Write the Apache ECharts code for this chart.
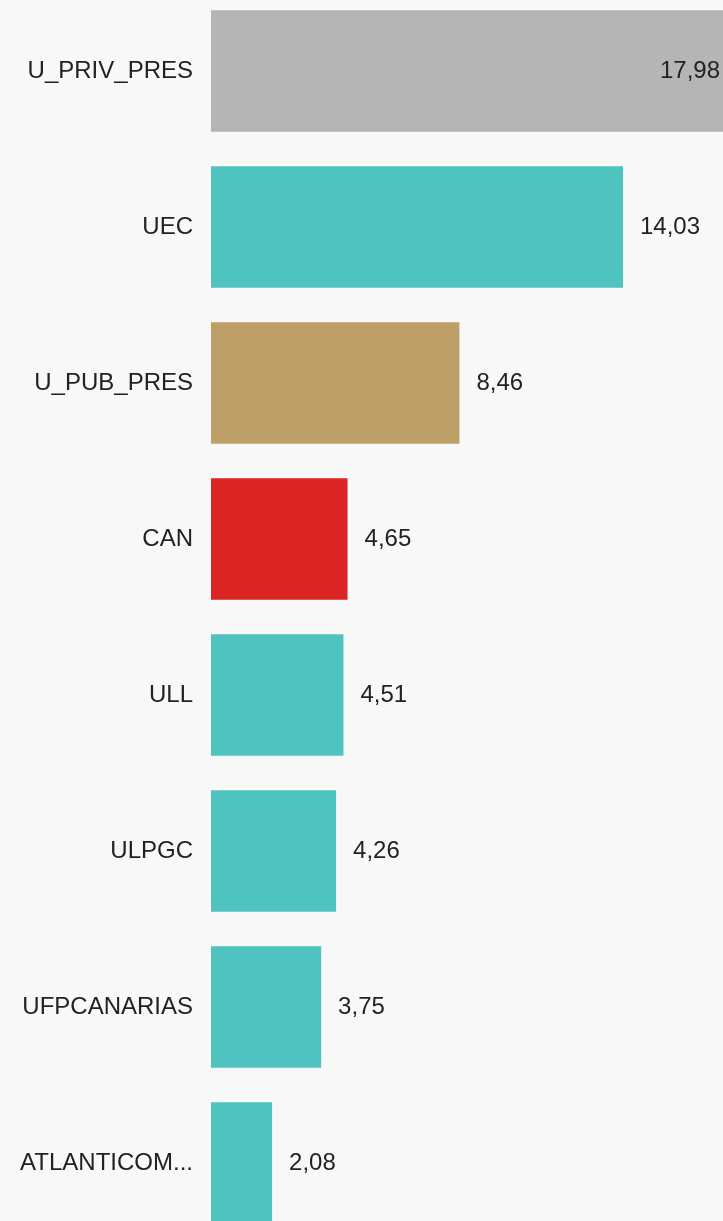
<!DOCTYPE html>
<html>
<head>
<meta charset="utf-8">
<script src="https://cdn.jsdelivr.net/npm/echarts@6/dist/echarts.min.js"></script>
<style>
  html, body { margin: 0; padding: 0; background: #f8f8f8; overflow: hidden; }
  body { width: 723px; height: 1221px; position: relative; }
  /* the plot runs past the window on the right and at top/bottom, like the source */
  #chart { position: absolute; left: 0; top: -7px; width: 739px; height: 1248px; }
</style>
</head>
<body>
<div id="chart"></div>
<script>
// values, top to bottom
const categories = ["U_PRIV_PRES", "UEC", "U_PUB_PRES", "CAN", "ULL", "ULPGC", "UFPCANARIAS", "ATLANTICOM..."]
const values = [17.98, 14.03, 8.46, 4.65, 4.51, 4.26, 3.75, 2.08]
const barColors = ["#b5b5b5", "#4fc3bf", "#bf9f68", "#dc2424", "#4fc3bf", "#4fc3bf", "#4fc3bf", "#4fc3bf"]

const VIEW_WIDTH = 723

const chart = echarts.init(document.getElementById("chart"))

const formatValue = (v) => v.toFixed(2).replace(".", ",")

const option = {
    backgroundColor: "#f8f8f8",
    textStyle: { fontFamily: "Liberation Sans, Arial, sans-serif" },
    animation: false,
    grid: {
        left: 211,
        right: 0,
        top: 0,
        bottom: 0,
        containLabel: false,
    },
    xAxis: {
        type: "value",
        min: 0,
        max: 17.98,
        show: false,
    },
    yAxis: {
        type: "category",
        inverse: true,
        data: categories,
        axisLine: { show: false },
        axisTick: { show: false },
        axisLabel: {
            margin: 18,
            fontSize: 24,
            color: "#222",
            padding: [7, 0, 0, 0],
        },
    },
    series: [
        {
            type: "bar",
            barCategoryGap: "22%",
            data: values.map((v, i) => ({
                value: v,
                itemStyle: { color: barColors[i] },
            })),
            label: {
                show: true,
                position: "right",
                distance: 17,
                fontSize: 24,
                color: "#222",
                padding: [7, 0, 0, 0],
                formatter: (p) => formatValue(p.value),
            },
            // keep a label inside the window when its bar runs off the edge
            labelLayout: (params) => {
                const r = params.labelRect
                if (r.x + r.width > VIEW_WIDTH) {
                    return {
                        x: VIEW_WIDTH - r.width - 3,
                        y: r.y + r.height / 2,
                        align: "left",
                        verticalAlign: "middle",
                    }
                }
            },
        },
    ],
}

chart.setOption(option)
</script>
</body>
</html>
